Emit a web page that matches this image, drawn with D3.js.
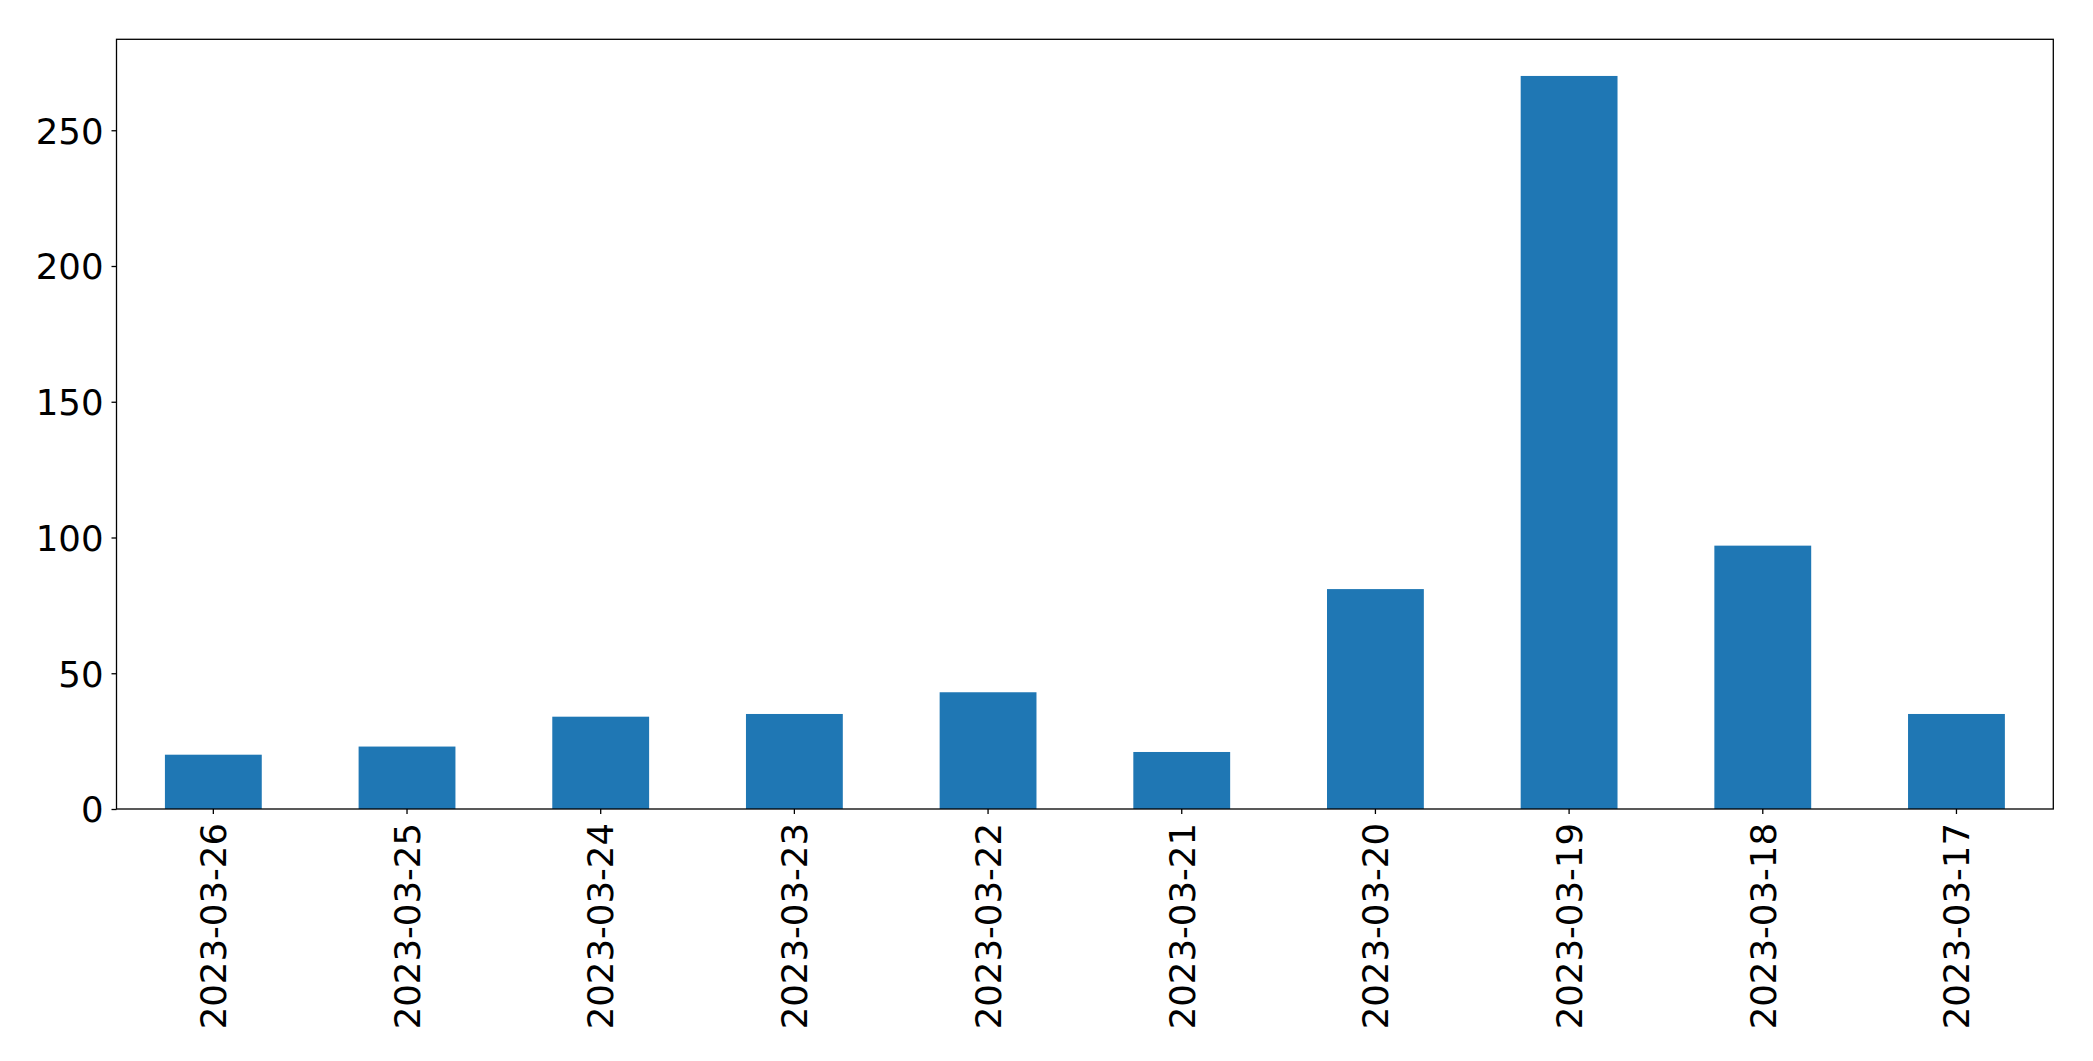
<!DOCTYPE html>
<html>
<head>
<meta charset="utf-8">
<script src="https://cdn.jsdelivr.net/npm/d3@7"></script>
<style>
html,body{margin:0;padding:0;background:#fff;}
svg{display:block;}
</style>
</head>
<body>
<svg id="chart" width="2093" height="1061"></svg>
<script>
const categories = ["2023-03-26","2023-03-25","2023-03-24","2023-03-23","2023-03-22","2023-03-21","2023-03-20","2023-03-19","2023-03-18","2023-03-17"];
const values = [20, 23, 34, 35, 43, 21, 81, 270, 97, 35];
const yTicks = [0, 50, 100, 150, 200, 250];

(function () {
const svg = d3.select("#chart");
const mLeft = 116.5, mRight = 2053.3, mTop = 39.3, mBottom = 809;
const fontFamily = "DejaVu Sans, sans-serif";
const fs = 35.5;

const x = d3.scaleBand().domain(categories).range([mLeft, mRight]).paddingInner(0.5).paddingOuter(0.25);
const yMax = d3.max(values) * 1.05;
const y = d3.scaleLinear().domain([0, yMax]).range([mBottom, mTop]);

svg.append("g").selectAll("rect").data(values).join("rect")
  .attr("x", (d, i) => x(categories[i]))
  .attr("width", x.bandwidth())
  .attr("y", d => y(d))
  .attr("height", d => y(0) - y(d))
  .attr("fill", "#1f77b4");

const yAxis = svg.append("g").attr("transform", `translate(${mLeft},0)`)
  .call(d3.axisLeft(y).tickValues(yTicks).tickSize(5).tickPadding(8).tickFormat(d3.format("d")));
yAxis.select(".domain").remove();
yAxis.selectAll("line").attr("stroke", "#000").attr("stroke-width", 1.3);
yAxis.selectAll("text").attr("font-family", fontFamily).attr("font-size", fs).attr("fill", "#000").attr("dy", "0.36em");

const xAxis = svg.append("g").attr("transform", `translate(0,${mBottom})`)
  .call(d3.axisBottom(x).tickSize(5).tickPadding(8));
xAxis.select(".domain").remove();
xAxis.selectAll("line").attr("stroke", "#000").attr("stroke-width", 1.3);
xAxis.selectAll("text")
  .attr("font-family", fontFamily).attr("font-size", fs).attr("fill", "#000")
  .attr("transform", "rotate(-90)")
  .attr("text-anchor", "end")
  .attr("x", -14).attr("y", 0).attr("dy", "0.36em");

svg.append("rect").attr("x", mLeft).attr("y", mTop).attr("width", mRight - mLeft).attr("height", mBottom - mTop)
  .attr("fill", "none").attr("stroke", "#000").attr("stroke-width", 1.3);
})();
</script>
</body>
</html>
